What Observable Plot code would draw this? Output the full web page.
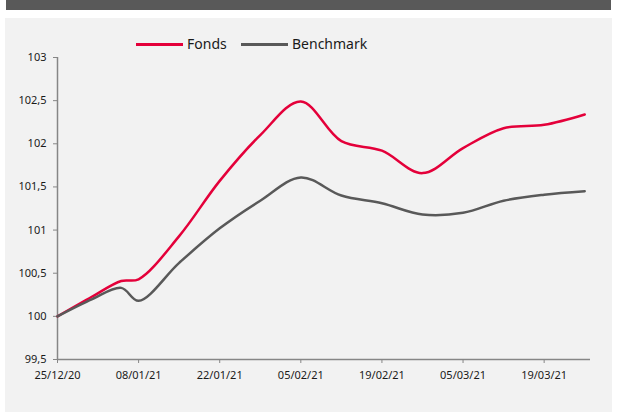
<!DOCTYPE html>
<html>
<head>
<meta charset="utf-8">
<script src="https://cdn.jsdelivr.net/npm/d3@7"></script>
<script src="https://cdn.jsdelivr.net/npm/@observablehq/plot@0.6"></script>
<style>
  html, body { margin: 0; padding: 0; background: #ffffff; }
  #wrap { position: relative; width: 617px; height: 412px; overflow: hidden; font-family: "Noto Sans", sans-serif; }
  #topbar { position: absolute; left: 6px; top: 0; width: 605px; height: 10px; background: #595959; }
  #panel { position: absolute; left: 5px; top: 18px; width: 607px; height: 394px; background: #f2f2f2; }
  #chart { position: absolute; left: 0; top: 0; }
  .leg { position: absolute; top: 34px; height: 20px; font-size: 14px; color: #1a1a1a; line-height: 20px; }
  .legline { position: absolute; height: 2.5px; top: 43px; }
</style>
</head>
<body>
<div id="wrap">
  <div id="topbar"></div>
  <div id="panel"></div>
  <div id="chart"></div>
  <div class="legline" style="left:136px;width:47px;background:#e4003a"></div>
  <div class="leg" style="left:187px">Fonds</div>
  <div class="legline" style="left:241px;width:47px;background:#595959"></div>
  <div class="leg" style="left:292px">Benchmark</div>
</div>
<script>
const dates = ["2020-12-25","2020-12-31","2021-01-05","2021-01-08","2021-01-15","2021-01-22","2021-01-29","2021-02-05","2021-02-12","2021-02-19","2021-02-26","2021-03-05","2021-03-12","2021-03-19","2021-03-26"];
const fonds = [100, 100.23, 100.41, 100.43, 100.93, 101.57, 102.10, 102.49, 102.03, 101.92, 101.66, 101.95, 102.18, 102.22, 102.34];
const benchmark = [100, 100.20, 100.33, 100.18, 100.62, 101.02, 101.34, 101.61, 101.40, 101.31, 101.18, 101.20, 101.34, 101.41, 101.45];
const xTickLabels = ["2020-12-25","2021-01-08","2021-01-22","2021-02-05","2021-02-19","2021-03-05","2021-03-19"];
const yTicks = [99.5, 100, 100.5, 101, 101.5, 102, 102.5, 103];
const seriesNames = ["Fonds", "Benchmark"];

const parse = d3.utcParse("%Y-%m-%d");
const rows = [];
dates.forEach((d, i) => {
  rows.push({date: parse(d), value: fonds[i], series: seriesNames[0]});
  rows.push({date: parse(d), value: benchmark[i], series: seriesNames[1]});
});
const xStart = parse("2020-12-25"), xEnd = parse("2021-03-27");

const chart = Plot.plot({
  width: 617,
  height: 412,
  marginLeft: 57,
  marginRight: 27,
  marginTop: 57,
  marginBottom: 53,
  style: {background: "transparent", fontFamily: "Noto Sans, sans-serif", fontSize: "11px", color: "#1a1a1a"},
  x: {type: "utc", domain: [xStart, xEnd], label: null},
  y: {domain: [99.5, 103], label: null},
  color: {domain: seriesNames, range: ["#e4003a", "#595959"]},
  marks: [
    Plot.ruleY([99.5], {x1: xStart, x2: xEnd, stroke: "#868686", strokeWidth: 1.5}),
    Plot.ruleX([xStart], {y1: 99.5, y2: 103, stroke: "#868686", strokeWidth: 1.5}),
    Plot.axisX({ticks: xTickLabels.map(parse), tickFormat: d3.utcFormat("%d/%m/%y"), tickSize: 4, tickPadding: 8, stroke: "#868686", fill: "#1a1a1a", label: null}),
    Plot.axisY({ticks: yTicks, tickFormat: d => String(d).replace(".", ","), tickSize: 4, tickPadding: 7, stroke: "#868686", fill: "#1a1a1a", label: null}),
    Plot.line(rows, {x: "date", y: "value", z: "series", stroke: "series", strokeWidth: 2.5, curve: "catmull-rom"})
  ]
});
document.getElementById("chart").appendChild(chart);
</script>
</body>
</html>
